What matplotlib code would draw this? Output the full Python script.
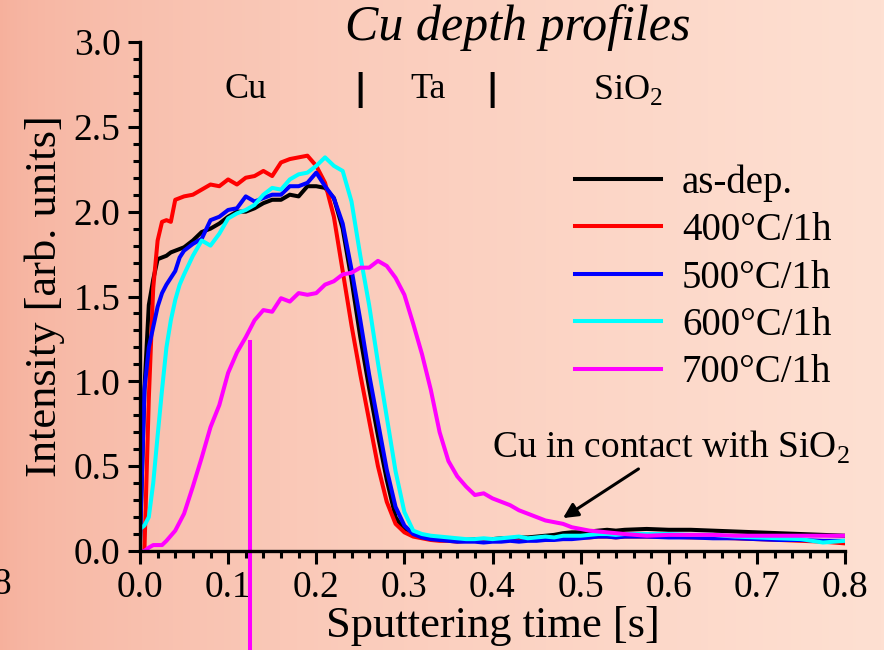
import numpy as np
import matplotlib
matplotlib.use("Agg")
import matplotlib.pyplot as plt
from matplotlib.ticker import MultipleLocator, FormatStrFormatter

plt.rcParams['font.family'] = ['Liberation Serif', 'DejaVu Serif']
plt.rcParams['mathtext.fontset'] = 'custom'
plt.rcParams['mathtext.rm'] = 'Liberation Serif'

# sputtering time [s]
time = [0.0, 0.005, 0.01, 0.015, 0.02, 0.025, 0.03, 0.035, 0.04, 0.045, 0.05,
        0.06, 0.07, 0.08, 0.09, 0.10, 0.11, 0.12, 0.13, 0.14, 0.15,
        0.16, 0.17, 0.18, 0.19, 0.20, 0.21, 0.22, 0.23, 0.24, 0.25,
        0.26, 0.27, 0.28, 0.29, 0.30, 0.31, 0.32, 0.33, 0.34, 0.35,
        0.36, 0.37, 0.38, 0.39, 0.40, 0.41, 0.42, 0.43, 0.44, 0.45,
        0.46, 0.47, 0.48, 0.49, 0.50, 0.51, 0.52, 0.53, 0.54, 0.55,
        0.575, 0.6, 0.625, 0.65, 0.675, 0.7, 0.725, 0.75, 0.775, 0.8]

as_dep = [0.06, 0.95, 1.45, 1.60, 1.72, 1.73, 1.74, 1.76, 1.77, 1.78, 1.79,
          1.83, 1.88, 1.90, 1.93, 1.97, 2.00, 2.00, 2.02, 2.05, 2.07,
          2.07, 2.10, 2.09, 2.15, 2.15, 2.14, 2.08, 1.90, 1.60, 1.26,
          0.96, 0.68, 0.42, 0.20, 0.12, 0.095, 0.085, 0.075, 0.07, 0.065,
          0.065, 0.065, 0.07, 0.07, 0.07, 0.075, 0.075, 0.08, 0.08, 0.085,
          0.09, 0.095, 0.105, 0.11, 0.11, 0.115, 0.12, 0.125, 0.12, 0.125,
          0.13, 0.125, 0.125, 0.12, 0.115, 0.11, 0.105, 0.10, 0.095, 0.09]

t400 = [0.0, 0.0, 0.9, 1.55, 1.83, 1.94, 1.95, 1.94, 2.07, 2.08, 2.09,
        2.10, 2.13, 2.16, 2.15, 2.19, 2.16, 2.20, 2.21, 2.24, 2.21,
        2.29, 2.31, 2.32, 2.33, 2.27, 2.17, 1.97, 1.65, 1.33, 1.04,
        0.77, 0.50, 0.29, 0.16, 0.11, 0.085, 0.075, 0.065, 0.06, 0.06,
        0.055, 0.06, 0.06, 0.055, 0.06, 0.06, 0.065, 0.06, 0.065, 0.065,
        0.07, 0.07, 0.075, 0.08, 0.08, 0.08, 0.085, 0.085, 0.08, 0.085,
        0.085, 0.085, 0.08, 0.08, 0.075, 0.07, 0.065, 0.06, 0.055, 0.045]

t500 = [0.05, 0.95, 1.20, 1.32, 1.44, 1.52, 1.57, 1.61, 1.65, 1.73, 1.77,
        1.81, 1.84, 1.95, 1.97, 2.01, 2.02, 2.09, 2.06, 2.08, 2.10,
        2.10, 2.15, 2.15, 2.17, 2.23, 2.15, 2.08, 1.93, 1.66, 1.36,
        1.04, 0.76, 0.48, 0.26, 0.15, 0.10, 0.08, 0.07, 0.065, 0.06,
        0.055, 0.055, 0.055, 0.05, 0.055, 0.055, 0.06, 0.055, 0.06, 0.06,
        0.065, 0.065, 0.07, 0.07, 0.075, 0.08, 0.085, 0.085, 0.08, 0.085,
        0.085, 0.08, 0.08, 0.075, 0.075, 0.07, 0.065, 0.065, 0.06, 0.06]

t600 = [0.13, 0.15, 0.20, 0.40, 0.68, 0.95, 1.20, 1.36, 1.48, 1.57, 1.63,
        1.74, 1.83, 1.80, 1.87, 1.96, 1.99, 2.01, 2.04, 2.10, 2.14,
        2.13, 2.19, 2.22, 2.23, 2.27, 2.32, 2.27, 2.24, 2.06, 1.74,
        1.45, 1.11, 0.79, 0.47, 0.23, 0.12, 0.10, 0.09, 0.085, 0.08,
        0.075, 0.07, 0.07, 0.075, 0.07, 0.075, 0.08, 0.085, 0.075, 0.08,
        0.085, 0.08, 0.09, 0.09, 0.09, 0.095, 0.10, 0.10, 0.095, 0.10,
        0.10, 0.10, 0.095, 0.095, 0.085, 0.08, 0.075, 0.07, 0.05, 0.06]

t700 = [0.0, 0.0, 0.02, 0.035, 0.035, 0.035, 0.06, 0.09, 0.12, 0.17, 0.22,
        0.38, 0.55, 0.73, 0.86, 1.05, 1.17, 1.26, 1.36, 1.42, 1.41,
        1.49, 1.47, 1.52, 1.51, 1.52, 1.57, 1.59, 1.63, 1.64, 1.67,
        1.67, 1.71, 1.68, 1.61, 1.51, 1.34, 1.16, 0.95, 0.70, 0.53,
        0.44, 0.38, 0.33, 0.34, 0.31, 0.29, 0.27, 0.24, 0.22, 0.20,
        0.18, 0.17, 0.16, 0.14, 0.13, 0.12, 0.115, 0.11, 0.105, 0.10,
        0.09, 0.095, 0.095, 0.095, 0.09, 0.09, 0.09, 0.09, 0.09, 0.09]

series = [as_dep, t400, t500, t600, t700]
labels = ['as-dep.', '400°C/1h', '500°C/1h', '600°C/1h', '700°C/1h']
colors = ['black', '#ff0000', '#0000ff', '#00ffff', '#ff00ff']

# stray magenta marker line
marker_x = [0.125, 0.125]
marker_y = [1.23, -0.6]

fig = plt.figure(figsize=(8.84, 6.5), dpi=100)

# background gradient
bg = fig.add_axes([0, 0, 1, 1], zorder=-10)
left_col = np.array([246, 176, 156]) / 255
right_col = np.array([254, 224, 210]) / 255
s = np.linspace(0, 1, 256) ** 0.6
grad = left_col[None, :] * (1 - s[:, None]) + right_col[None, :] * s[:, None]
bg.imshow(grad[None, :, :], aspect='auto', extent=[0, 1, 0, 1])
bg.axis('off')

ax = fig.add_axes([140 / 884, 99 / 650, 705 / 884, 509 / 650])
ax.patch.set_alpha(0)

for ys, lab, c in zip(series, labels, colors):
    ax.plot(time, ys, color=c, lw=2.9, label=lab)

ax.plot(marker_x, marker_y, color='#ff00ff', lw=2.9, clip_on=False)

ax.set_xlim(0, 0.8)
ax.set_ylim(0, 3.0)
ax.xaxis.set_major_locator(MultipleLocator(0.1))
ax.xaxis.set_minor_locator(MultipleLocator(0.02))
ax.yaxis.set_major_locator(MultipleLocator(0.5))
ax.yaxis.set_minor_locator(MultipleLocator(0.1))
ax.xaxis.set_major_formatter(FormatStrFormatter('%.1f'))
ax.yaxis.set_major_formatter(FormatStrFormatter('%.1f'))
ax.tick_params(which='major', direction='out', length=9, width=2.2, labelsize=27, pad=5)
ax.tick_params(which='minor', direction='out', length=5, width=2.2)
for side in ['top', 'right']:
    ax.spines[side].set_visible(False)
for side in ['left', 'bottom']:
    ax.spines[side].set_linewidth(2.4)

ax.set_xlabel('Sputtering time [s]', fontsize=32, labelpad=1)
ax.set_ylabel('Intensity [arb. units]', fontsize=32, labelpad=6)
fig.text(518 / 884, 1 - 40 / 650, 'Cu depth profiles', fontsize=36,
         style='italic', ha='center', va='baseline')

# layer labels
ax.text(0.12, 2.72, 'Cu', fontsize=26, ha='center', va='center')
ax.text(0.327, 2.72, 'Ta', fontsize=26, ha='center', va='center')
ax.text(0.554, 2.72, 'SiO$_2$', fontsize=26, ha='center', va='center')
for xb in [0.25, 0.40]:
    ax.text(xb, 2.72, '|', fontsize=26, ha='center', va='center',
            family='DejaVu Sans', fontweight='bold')

ax.annotate('Cu in contact with SiO$_2$', xy=(0.48, 0.194), xytext=(0.40, 0.61),
            fontsize=27, ha='left', va='center',
            arrowprops=dict(arrowstyle='-|>', color='black', lw=2.2,
                            mutation_scale=22, shrinkA=0, shrinkB=0,
                            relpos=(0.42, 0.0)))

ax.legend(loc='upper left', bbox_to_anchor=(575 / 884, 1 - 164 / 650),
          bbox_transform=fig.transFigure, frameon=False, fontsize=28,
          handlelength=2.2, handletextpad=0.55, labelspacing=0.27,
          borderpad=0, borderaxespad=0)

# cut-off tick label at the far left edge
fig.text(12 / 884, 1 - 585 / 650, '0.8', fontsize=27, ha='right', va='center')

fig.savefig('out.png', dpi=100)
